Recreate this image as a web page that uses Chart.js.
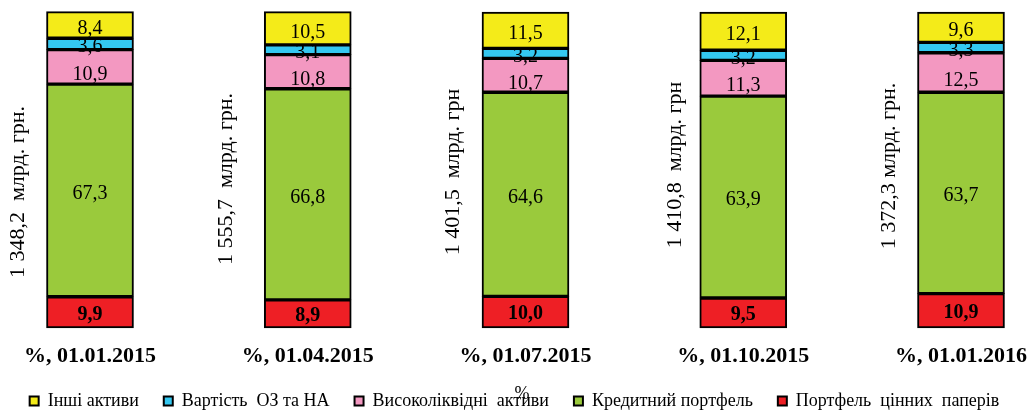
<!DOCTYPE html>
<html>
<head>
<meta charset="utf-8">
<script src="https://cdn.jsdelivr.net/npm/chart.js@4"></script>
<style>
  html, body { margin: 0; padding: 0; background: #fff; }
  #wrap { width: 1029px; height: 410px; position: relative; }
</style>
</head>
<body>
<div id="wrap"><canvas id="myChart"></canvas></div>
<script>
const dates = ["%, 01.01.2015", "%, 01.04.2015", "%, 01.07.2015", "%, 01.10.2015", "%, 01.01.2016"]
const totals = ["1 348,2  млрд. грн.", "1 555,7  млрд. грн.", "1 401,5  млрд. грн", "1 410,8  млрд. грн", "1 372,3 млрд. грн."]

const securities = [9.9, 8.9, 10.0, 9.5, 10.9]
const loans = [67.3, 66.8, 64.6, 63.9, 63.7]
const liquid = [10.9, 10.8, 10.7, 11.3, 12.5]
const fixedAssets = [3.6, 3.1, 3.2, 3.2, 3.3]
const other = [8.4, 10.5, 11.5, 12.1, 9.6]

const serif = "'Liberation Serif', 'Times New Roman', serif"
Chart.defaults.font.family = serif
Chart.defaults.color = "#000"

// where the rotated totals sit, relative to bar centre / plot middle
const totalDx = [-72, -82, -72, -68, -72]
const totalDy = [22, 9, 2, -5, -4]
// labels in the original sit a bit below segment centres
const labelDy = [2, 3, 8, 3, 4]

const labelPlugin = {
  id: "segLabels",
  afterDatasetsDraw(chart) {
    const c = chart.ctx
    c.save()
    c.textAlign = "center"
    c.textBaseline = "middle"
    c.fillStyle = "#000"
    chart.data.datasets.forEach((ds, i) => {
      const meta = chart.getDatasetMeta(i)
      c.font = (i === 0 ? "bold " : "") + "20px " + serif
      meta.data.forEach((bar, j) => {
        const v = ds.data[j]
        c.fillText(v.toFixed(1).replace(".", ","), bar.x, (bar.y + bar.base) / 2 + labelDy[i])
      })
    })
    // rotated totals left of every bar
    const area = chart.chartArea
    const mid = (area.top + area.bottom) / 2
    c.font = "22px " + serif
    chart.getDatasetMeta(0).data.forEach((bar, j) => {
      c.save()
      c.translate(bar.x + totalDx[j], mid + totalDy[j])
      c.rotate(-Math.PI / 2)
      c.fillText(totals[j], 0, 0)
      c.restore()
    })
    // stray percent sign on the legend
    c.font = "18px " + serif
    c.fillText("%", 522, 394)
    c.restore()
  },
}

const ctx = document.getElementById("myChart").getContext("2d")
const common = { borderColor: "#000", borderWidth: 2, borderSkipped: false, barThickness: 87, clip: false }

new Chart(ctx, {
  type: "bar",
  data: {
    labels: dates,
    datasets: [
      { label: "Портфель  цінних  паперів", data: securities, backgroundColor: "#EE1F25", ...common },
      { label: "Кредитний портфель", data: loans, backgroundColor: "#9ACA3C", ...common },
      { label: "Високоліквідні  активи", data: liquid, backgroundColor: "#F398C1", ...common },
      { label: "Вартість  ОЗ та НА", data: fixedAssets, backgroundColor: "#34C8F1", ...common },
      { label: "Інші активи", data: other, backgroundColor: "#F4EB19", ...common },
    ],
  },
  options: {
    responsive: true,
    maintainAspectRatio: false,
    animation: false,
    layout: { padding: { top: 12, bottom: 0 } },
    scales: {
      x: {
        stacked: true,
        offset: false,
        grid: { display: false },
        border: { display: false },
        ticks: {
          autoSkip: false,
          maxRotation: 0,
          padding: 7,
          font: { family: serif, size: 22, weight: "bold" },
        },
        afterFit(s) {
          s.height = 39
          s.paddingLeft = 0
          s.paddingRight = 0
        },
      },
      y: {
        stacked: true,
        min: 0,
        max: 100,
        grid: { display: false },
        border: { display: false },
        ticks: { display: false },
        afterFit(s) { s.width = 90 },
      },
      yRight: {
        position: "right",
        min: 0,
        max: 100,
        grid: { display: false },
        border: { display: false },
        ticks: { display: false },
        afterFit(s) { s.width = 68 },
      },
    },
    plugins: {
      tooltip: { enabled: false },
      legend: {
        position: "bottom",
        reverse: true,
        maxHeight: 43,
        labels: {
          boxWidth: 9,
          boxHeight: 9,
          padding: 25,
          font: { family: serif, size: 18 },
        },
      },
    },
  },
  plugins: [labelPlugin],
})
</script>
</body>
</html>
